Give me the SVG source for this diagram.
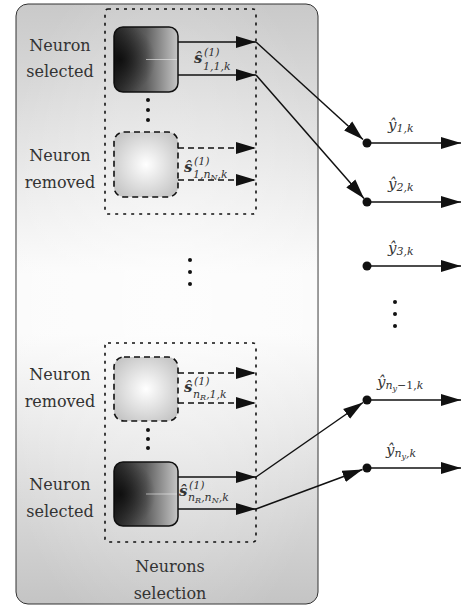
<svg xmlns="http://www.w3.org/2000/svg" width="461" height="607" viewBox="0 0 461 607">
<defs>
<linearGradient id="panelG" x1="0" y1="0" x2="0" y2="1">
<stop offset="0" stop-color="#c9c9c9"/>
<stop offset="0.45" stop-color="#fbfbfb"/>
<stop offset="0.55" stop-color="#fbfbfb"/>
<stop offset="1" stop-color="#c4c4c4"/>
</linearGradient>
<radialGradient id="panelR" cx="0.5" cy="0.5" r="0.6">
<stop offset="0" stop-color="#ffffff" stop-opacity="0.5"/>
<stop offset="1" stop-color="#ffffff" stop-opacity="0"/>
</radialGradient>
<linearGradient id="darkG" x1="0" y1="0" x2="1" y2="0">
<stop offset="0" stop-color="#262626"/>
<stop offset="0.5" stop-color="#5e5e5e"/>
<stop offset="1" stop-color="#c6c6c6"/>
</linearGradient>
<radialGradient id="darkR" cx="0.1" cy="0.5" r="0.55">
<stop offset="0" stop-color="#000" stop-opacity="0.7"/>
<stop offset="1" stop-color="#000" stop-opacity="0"/>
</radialGradient>
<radialGradient id="lightG" cx="0.5" cy="0.5" r="0.6">
<stop offset="0" stop-color="#ffffff"/>
<stop offset="1" stop-color="#c6c6c6"/>
</radialGradient>
<marker id="ah" markerUnits="userSpaceOnUse" markerWidth="22" markerHeight="14" viewBox="0 -7 22 14" refX="20" refY="0" orient="auto">
<path d="M0,-6 L20,0 L0,6 z" fill="#111"/>
</marker>
</defs>
<style>
.lbl{font-size:16px;fill:#333;text-anchor:middle}
.math{font-style:italic;fill:#333}
.sel{fill:none;stroke:#111;stroke-width:1.6;stroke-dasharray:3 5}
.rem{fill:url(#lightG);stroke:#111;stroke-width:1.6;stroke-dasharray:6 4}
.act{stroke:#111;stroke-width:1.5;fill:none}
.dash{stroke:#111;stroke-width:1.5;fill:none;stroke-dasharray:6 4}
.conn{stroke:#111;stroke-width:1.5;fill:none;marker-end:url(#ah)}
.dot{fill:#111}
</style>
<g font-family="'DejaVu Serif', serif">
<g id="panel">
<rect x="16" y="4" width="302" height="600" rx="12" fill="url(#panelG)" stroke="#333" stroke-width="1"/>
<rect x="16" y="4" width="302" height="600" rx="12" fill="url(#panelR)"/>
<text class="lbl" x="170" y="572">Neurons</text>
<text class="lbl" x="170" y="599">selection</text>
<circle class="dot" cx="190" cy="260" r="2"/>
<circle class="dot" cx="190" cy="272" r="2"/>
<circle class="dot" cx="190" cy="284" r="2"/>
</g>

<g id="group1">
<rect class="sel" x="105" y="9" width="151" height="205" rx="3"/>
<circle class="dot" cx="148" cy="100" r="2"/>
<circle class="dot" cx="148" cy="110" r="2"/>
<circle class="dot" cx="148" cy="120" r="2"/>
</g>

<g id="neuron11">
<text class="lbl" x="60" y="51">Neuron</text>
<text class="lbl" x="60" y="77">selected</text>
<rect x="114" y="27" width="64" height="65" rx="9" fill="url(#darkG)" stroke="#111" stroke-width="1.5"/>
<rect x="114" y="27" width="64" height="65" rx="9" fill="url(#darkR)"/>
<line x1="146" y1="59.5" x2="177" y2="59.5" stroke="#eee" stroke-width="1" opacity="0.6"/>
<line class="act" x1="178" y1="42" x2="256" y2="42" marker-end="url(#ah)"/>
<line class="act" x1="178" y1="75" x2="256" y2="75" marker-end="url(#ah)"/>
<text class="math" x="194" y="63" font-size="15" font-weight="bold">ŝ</text>
<text class="math" x="204" y="56" font-size="11" font-style="normal">(1)</text>
<text class="math" x="203" y="70" font-size="11">1,1,k</text>
</g>

<g id="neuron1n">
<text class="lbl" x="60" y="161">Neuron</text>
<text class="lbl" x="60" y="188">removed</text>
<rect class="rem" x="114" y="132" width="64" height="65" rx="10"/>
<line class="dash" x1="178" y1="148" x2="256" y2="148" marker-end="url(#ah)"/>
<line class="dash" x1="178" y1="180" x2="256" y2="180" marker-end="url(#ah)"/>
<text class="math" x="184" y="172" font-size="15" font-weight="bold">ŝ</text>
<text class="math" x="194" y="165" font-size="11" font-style="normal">(1)</text>
<text class="math" x="193" y="178" font-size="11">1,n<tspan font-size="8" dy="2">N</tspan><tspan dy="-2">,k</tspan></text>
</g>

<g id="group2">
<rect class="sel" x="105" y="343" width="151" height="199" rx="3"/>
<circle class="dot" cx="148" cy="430" r="2"/>
<circle class="dot" cx="148" cy="439" r="2"/>
<circle class="dot" cx="148" cy="448" r="2"/>
</g>

<g id="neuronR1">
<text class="lbl" x="60" y="380">Neuron</text>
<text class="lbl" x="60" y="407">removed</text>
<rect class="rem" x="114" y="357" width="64" height="64" rx="10"/>
<line class="dash" x1="178" y1="373" x2="256" y2="373" marker-end="url(#ah)"/>
<line class="dash" x1="178" y1="403" x2="256" y2="403" marker-end="url(#ah)"/>
<text class="math" x="184" y="392" font-size="15" font-weight="bold">ŝ</text>
<text class="math" x="194" y="385" font-size="11" font-style="normal">(1)</text>
<text class="math" x="193" y="398" font-size="11">n<tspan font-size="8" dy="2">R</tspan><tspan dy="-2">,1,k</tspan></text>
</g>

<g id="neuronRN">
<text class="lbl" x="60" y="490">Neuron</text>
<text class="lbl" x="60" y="517">selected</text>
<rect x="114" y="462" width="64" height="64" rx="9" fill="url(#darkG)" stroke="#111" stroke-width="1.5"/>
<rect x="114" y="462" width="64" height="64" rx="9" fill="url(#darkR)"/>
<line x1="146" y1="494" x2="177" y2="494" stroke="#eee" stroke-width="1" opacity="0.6"/>
<line class="act" x1="178" y1="477" x2="256" y2="477" marker-end="url(#ah)"/>
<line class="act" x1="178" y1="509" x2="256" y2="509" marker-end="url(#ah)"/>
<text class="math" x="179" y="496" font-size="15" font-weight="bold">ŝ</text>
<text class="math" x="189" y="489" font-size="11" font-style="normal">(1)</text>
<text class="math" x="188" y="501" font-size="11">n<tspan font-size="8" dy="2">R</tspan><tspan dy="-2">,n</tspan><tspan font-size="8" dy="2">N</tspan><tspan dy="-2">,k</tspan></text>
</g>

<g id="out1">
<circle class="dot" cx="367" cy="143" r="4.5"/>
<line class="act" x1="367" y1="143" x2="461" y2="143" marker-end="url(#ah)"/>
<text class="math" x="388" y="130" font-size="15">ŷ<tspan font-size="11" dy="2">1,k</tspan></text>
</g>
<g id="out2">
<circle class="dot" cx="367" cy="202" r="4.5"/>
<line class="act" x1="367" y1="202" x2="461" y2="202" marker-end="url(#ah)"/>
<text class="math" x="388" y="189" font-size="15">ŷ<tspan font-size="11" dy="2">2,k</tspan></text>
</g>
<g id="out3">
<circle class="dot" cx="367" cy="266" r="4.5"/>
<line class="act" x1="367" y1="266" x2="461" y2="266" marker-end="url(#ah)"/>
<text class="math" x="388" y="253" font-size="15">ŷ<tspan font-size="11" dy="2">3,k</tspan></text>
</g>
<g id="outdots">
<circle class="dot" cx="395" cy="302" r="2"/>
<circle class="dot" cx="395" cy="314" r="2"/>
<circle class="dot" cx="395" cy="326" r="2"/>
</g>
<g id="outNm1">
<circle class="dot" cx="367" cy="400" r="4.5"/>
<line class="act" x1="367" y1="400" x2="461" y2="400" marker-end="url(#ah)"/>
<text class="math" x="377" y="387" font-size="15">ŷ<tspan font-size="11" dy="2">n</tspan><tspan font-size="8" dy="2">y</tspan><tspan font-size="11" dy="-2" font-style="normal">−1,</tspan><tspan font-size="11">k</tspan></text>
</g>
<g id="outN">
<circle class="dot" cx="367" cy="468" r="4.5"/>
<line class="act" x1="367" y1="468" x2="461" y2="468" marker-end="url(#ah)"/>
<text class="math" x="386" y="455" font-size="15">ŷ<tspan font-size="11" dy="2">n</tspan><tspan font-size="8" dy="2">y</tspan><tspan font-size="11" dy="-2">,k</tspan></text>
</g>

<g id="connectors">
<line class="conn" x1="256" y1="42" x2="363" y2="139.5"/>
<line class="conn" x1="256" y1="75" x2="364" y2="198.5"/>
<line class="conn" x1="256" y1="477" x2="363" y2="402.5"/>
<line class="conn" x1="256" y1="509" x2="362.5" y2="469.5"/>
</g>
</g>
</svg>
